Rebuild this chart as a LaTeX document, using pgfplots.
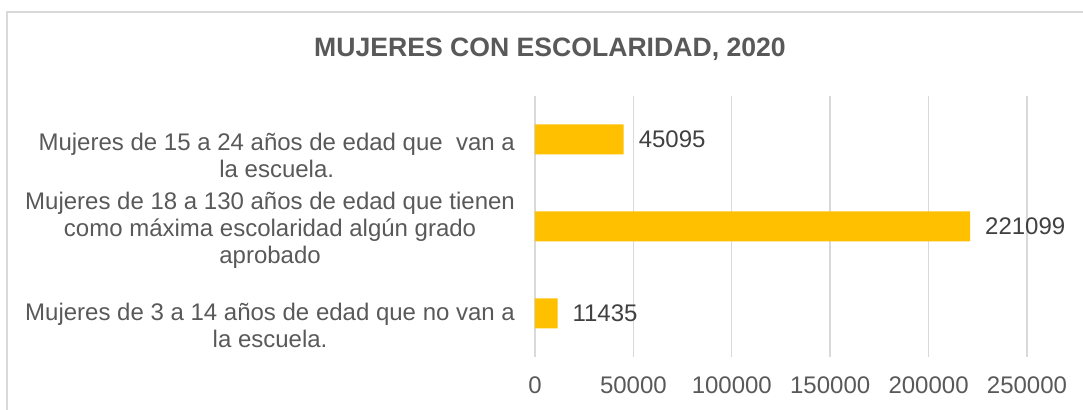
\documentclass[border=0pt]{standalone}
\usepackage{fontspec}
\setmainfont{Liberation Sans}
\usepackage{pgfplots}
\pgfplotsset{compat=1.18}
\definecolor{barY}{HTML}{FFC000}
\definecolor{txt}{HTML}{595959}
\definecolor{val}{HTML}{404040}
\definecolor{grd}{HTML}{D9D9D9}
\begin{document}
\begin{tikzpicture}
\useasboundingbox (0,0) rectangle (541.5pt,205pt);
\clip (0,0) rectangle (541.5pt,205pt);
\draw[grd, line width=0.75pt] (3.5pt,-20pt) -- (3.5pt,199pt) -- (560pt,199pt);
\node[anchor=base, text=txt, font=\fontsize{13.3}{16}\selectfont\bfseries, inner sep=0pt] at (275pt,176.5pt) {MUJERES CON ESCOLARIDAD, 2020};
\begin{axis}[
  at={(267.5pt,26.5pt)}, anchor=south west,
  scale only axis, width=246pt, height=130.5pt,
  xbar, bar width=15pt,
  xmin=0, xmax=250000, ymin=-0.5, ymax=2.5,
  xtick={0,50000,100000,150000,200000,250000},
  scaled x ticks=false,
  /pgf/number format/assume math mode=true,
  /pgf/number format/fixed,
  /pgf/number format/precision=0,
  /pgf/number format/1000 sep={},
  xmajorgrids, grid style={grd, line width=0.7pt},
  axis line style={draw=none},
  major tick length=0pt,
  ytick={-0.132,0.960,1.822},
  yticklabels={
    {Mujeres de 3 a 14 años de edad que no van a\\la escuela.},
    {Mujeres de 18 a 130 años de edad que tienen\\como máxima escolaridad algún grado\\aprobado},
    {Mujeres de 15 a 24 años de edad que\ \ van a\\la escuela.}},
  yticklabel style={align=center, text=txt, font=\fontsize{12}{13.5}\selectfont, xshift=-6.5pt},
  xticklabel style={text=txt, font=\fontsize{12}{14}\selectfont, yshift=-6.5pt},
  nodes near coords={\pgfmathprintnumber{\pgfplotspointmeta}},
  nodes near coords style={anchor=west, xshift=4pt, text=val, font=\fontsize{12}{14}\selectfont},
]
\addplot[fill=barY, draw=none] coordinates {(11435,0) (221099,1) (45095,2)};
\end{axis}
\end{tikzpicture}
\end{document}
